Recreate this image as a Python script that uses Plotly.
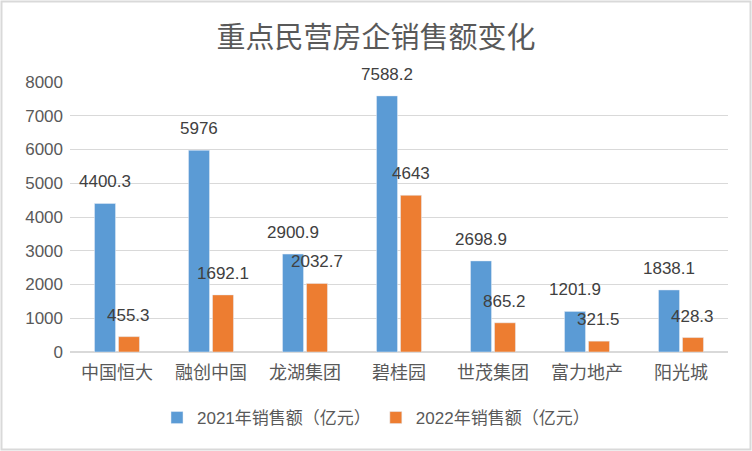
import plotly.graph_objects as go

categories = ["中国恒大", "融创中国", "龙湖集团", "碧桂园", "世茂集团", "富力地产", "阳光城"]
sales_2021 = [4400.3, 5976, 2900.9, 7588.2, 2698.9, 1201.9, 1838.1]
sales_2022 = [455.3, 1692.1, 2032.7, 4643, 865.2, 321.5, 428.3]
label_2021 = ["4400.3", "5976", "2900.9", "7588.2", "2698.9", "1201.9", "1838.1"]
label_2022 = ["455.3", "1692.1", "2032.7", "4643", "865.2", "321.5", "428.3"]
name_2021 = "2021年销售额（亿元）"
name_2022 = "2022年销售额（亿元）"
y_ticks = [0, 1000, 2000, 3000, 4000, 5000, 6000, 7000, 8000]

W, H = 752, 451
ML, MR, MT, MB = 70, 24, 82, 99
FONT = "Liberation Sans, Noto Sans CJK SC, sans-serif"
GREY = "#595959"

BARGAP = 0.49
GROUPGAP = 0.125

fig = go.Figure()
fig.add_trace(go.Bar(x=categories, y=sales_2021, name=name_2021, marker_color="#5B9BD5"))
fig.add_trace(go.Bar(x=categories, y=sales_2022, name=name_2022, marker_color="#ED7D31"))

# bar centre offset (in category units) for two traces in a group
off = (1 - BARGAP) / 4
annotations = []
for i in range(len(categories)):
    for vals, labs, sgn in ((sales_2021, label_2021, -1), (sales_2022, label_2022, 1)):
        annotations.append(dict(
            x=i + sgn * off, y=vals[i], xref="x", yref="y",
            text=labs[i], showarrow=False, yanchor="bottom", yshift=10,
            font=dict(family=FONT, size=17, color="#404040"),
        ))

pw = W - ML - MR
ph = H - MT - MB
fig.add_shape(type="rect", xref="paper", yref="paper",
              x0=(-ML + 1.5) / pw, x1=(pw + MR - 1.5) / pw,
              y0=(-MB + 1.5) / ph, y1=(ph + MT - 1.5) / ph,
              line=dict(color="#d9d9d9", width=2), layer="below")

fig.update_layout(
    width=W, height=H,
    margin=dict(l=ML, r=MR, t=MT, b=MB),
    paper_bgcolor="white", plot_bgcolor="white",
    barmode="group", bargap=BARGAP, bargroupgap=GROUPGAP,
    title=dict(text="重点民营房企销售额变化", x=0.5, xref="container", xanchor="center",
               y=1 - 38 / H, yref="container", yanchor="middle",
               font=dict(family=FONT, size=29, color=GREY)),
    font=dict(family=FONT, color=GREY),
    showlegend=True,
    legend=dict(orientation="h", x=0.5, xanchor="center", xref="container",
                y=(H - 418) / H, yanchor="middle", yref="container",
                font=dict(family=FONT, size=17, color=GREY),
                itemwidth=30, traceorder="normal"),
    annotations=annotations,
    xaxis=dict(showgrid=False, showline=False, ticks="", ticklabelstandoff=8,
               tickfont=dict(family=FONT, size=18, color=GREY)),
    yaxis=dict(range=[0, 8000], tickvals=y_ticks, showgrid=True, gridcolor="#d9d9d9",
               gridwidth=1.3, zeroline=True, zerolinecolor="#d9d9d9", zerolinewidth=2,
               showline=False, ticks="", ticklabelstandoff=6,
               tickfont=dict(family=FONT, size=17, color=GREY)),
)
fig.update_traces(cliponaxis=False)
fig.write_html("out.html", config={"displayModeBar": False},
               post_script="document.body.style.margin='0';document.body.style.overflow='hidden';")
